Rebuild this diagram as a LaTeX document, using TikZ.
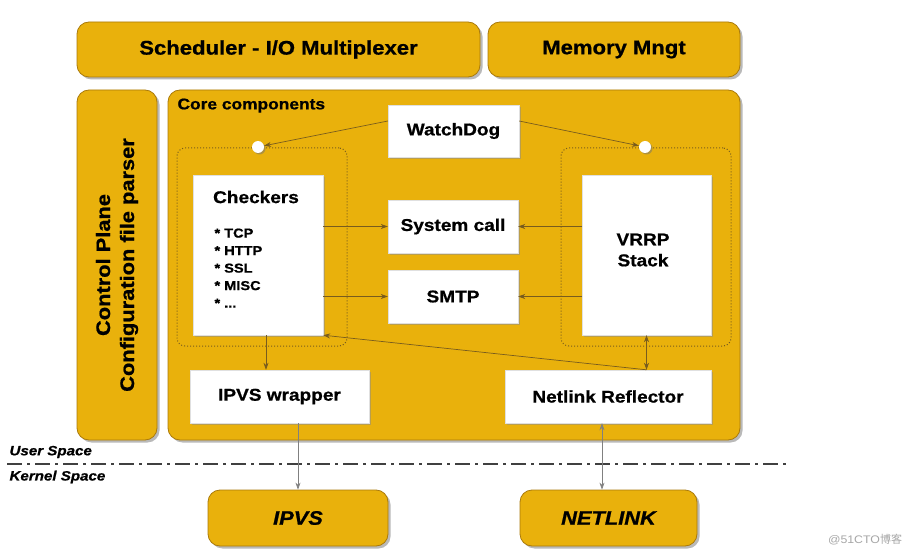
\documentclass[tikz,border=0pt]{standalone}
\usepackage{fontspec}
\setmainfont{Liberation Sans}[FakeStretch=1.12, BoldFeatures={FakeBold=0.8}, BoldItalicFeatures={FakeBold=0.8}]
\newfontfamily\cjkfont{Noto Sans CJK SC}
\usetikzlibrary{
    arrows.meta,
    positioning,
    shadows,
    calc,
}
\definecolor{gold}{RGB}{233,177,12}
\definecolor{golddark}{RGB}{170,122,10}
\definecolor{linkbrown}{RGB}{120,92,30}

\begin{document}
\begin{tikzpicture}[
        x=1pt, y=-1pt,
        font=\bfseries,
        block/.style={fill=gold, draw=golddark, line width=0.8pt, rounded corners=12pt,
            drop shadow={shadow xshift=2.5pt, shadow yshift=-2.5pt, fill=black!55}},
        box/.style={fill=white, draw=black!12, line width=0.4pt,
            drop shadow={shadow xshift=2pt, shadow yshift=-2pt, fill=black!45}},
        group/.style={draw=linkbrown, dotted, line width=1pt, rounded corners=8pt},
        port/.style={circle, fill=white, inner sep=0pt, minimum size=12pt,
            drop shadow={shadow xshift=1.5pt, shadow yshift=-1.5pt, fill=black!55}},
        link/.style={-{Stealth[length=7pt, width=5pt]}, linkbrown, line width=0.7pt},
        ext/.style={-{Stealth[length=7pt, width=5pt]}, black!50, line width=0.7pt},
        lbl/.style={font=\fontsize{17}{21}\selectfont\bfseries},
    ]
        \useasboundingbox (0,0) rectangle (916,556);

        % Top blocks
        \node[block, minimum width=403, minimum height=55, font=\fontsize{19.7}{23}\selectfont\bfseries]
            (sched) at (278.5, 49.5) {Scheduler - I/O Multiplexer};
        \node[block, minimum width=252, minimum height=55, font=\fontsize{19.7}{23}\selectfont\bfseries]
            (mem) at (614, 49.5) {Memory Mngt};

        % Control plane and core
        \node[block, minimum width=80, minimum height=350] (ctrl) at (117, 265) {};
        \node[rotate=90, align=center, font=\fontsize{19.5}{24}\selectfont\bfseries]
            (ctrlText) at (ctrl.center) {Control Plane\\Configuration file parser};
        \node[block, minimum width=572, minimum height=350] (core) at (454, 265) {};
        \node[anchor=north west, font=\fontsize{15.5}{18}\selectfont\bfseries]
            (coreText) at (174, 95) {Core components};

        % Dotted groups
        \node[group, minimum width=170, minimum height=198] (grpL) at (262, 247) {};
        \node[group, minimum width=170, minimum height=198] (grpR) at (646, 247) {};
        \node[port] (portL) at (258, 147) {};
        \node[port] (portR) at (645, 147) {};

        % White boxes
        \node[box, lbl, minimum width=131, minimum height=52] (wd) at (453.5, 131) {WatchDog};
        \node[box, minimum width=130, minimum height=160] (chk) at (258, 255) {};
        \node[lbl] (chkTitle) at (256, 197) {Checkers};
        \node[anchor=north west, align=left, font=\fontsize{13}{17.5}\selectfont\bfseries]
            (chkList) at (211, 225) {* TCP\\* HTTP\\* SSL\\* MISC\\* ...};
        \node[box, lbl, minimum width=130, minimum height=53] (sys) at (453, 226.5) {System call};
        \node[box, lbl, minimum width=130, minimum height=53] (smtp) at (453, 296.5) {SMTP};
        \node[box, minimum width=129, minimum height=160] (vrrp) at (646.5, 255) {};
        \node[lbl, align=center] (vrrpText) at (643, 250) {VRRP\\Stack};
        \node[box, lbl, minimum width=179, minimum height=53] (wrap) at (279.5, 396.5) {IPVS wrapper};
        \node[box, lbl, minimum width=206, minimum height=53] (refl) at (608, 396.5) {Netlink Reflector};

        % Kernel blocks
        \node[block, minimum width=180, minimum height=56, font=\fontsize{19.5}{23}\selectfont\bfseries\itshape]
            (ipvs) at (298, 518) {IPVS};
        \node[block, minimum width=177, minimum height=56, font=\fontsize{19.5}{23}\selectfont\bfseries\itshape]
            (netlink) at (608.5, 518) {NETLINK};

        % Space split
        \draw[black!75, line width=1.6pt, dash pattern=on 15pt off 5pt on 3pt off 5pt]
            (7, 464) -- (790, 464);
        \node[anchor=west, font=\fontsize{13.5}{16}\selectfont\bfseries\itshape]
            (user) at (6, 452) {User Space};
        \node[anchor=west, font=\fontsize{13.5}{16}\selectfont\bfseries\itshape]
            (kernel) at (6, 477) {Kernel Space};

        % Links
        \draw[link] ([yshift=10pt]wd.west) -- (portL);
        \draw[link] ([yshift=10pt]wd.east) -- (portR);
        \draw[link] (chk.east |- sys) -- (sys.west);
        \draw[link] (vrrp.west |- sys) -- (sys.east);
        \draw[link] (chk.east |- smtp) -- (smtp.west);
        \draw[link] (vrrp.west |- smtp) -- (smtp.east);
        \draw[link] ([xshift=8pt]chk.south) -- ([xshift=8pt]chk.south |- wrap.north);
        \draw[link] (vrrp.south |- refl.north) -- (chk.south east);
        \draw[link, {Stealth[length=7pt, width=5pt]}-{Stealth[length=7pt, width=5pt]}]
            (vrrp.south) -- (vrrp.south |- refl.north);
        \draw[ext] (wrap.south -| ipvs.north) -- (ipvs.north);
        \draw[ext, {Stealth[length=7pt, width=5pt]}-{Stealth[length=7pt, width=5pt]}]
            ([xshift=-6pt]refl.south) -- ([xshift=-6pt]netlink.north -| refl.south);

        % Watermark
        \node[text=black!35, font=\fontsize{11}{13}\selectfont\mdseries]
            (mark) at (865, 540) {@51CTO{\cjkfont 博客}};
    \end{tikzpicture}
\end{document}
